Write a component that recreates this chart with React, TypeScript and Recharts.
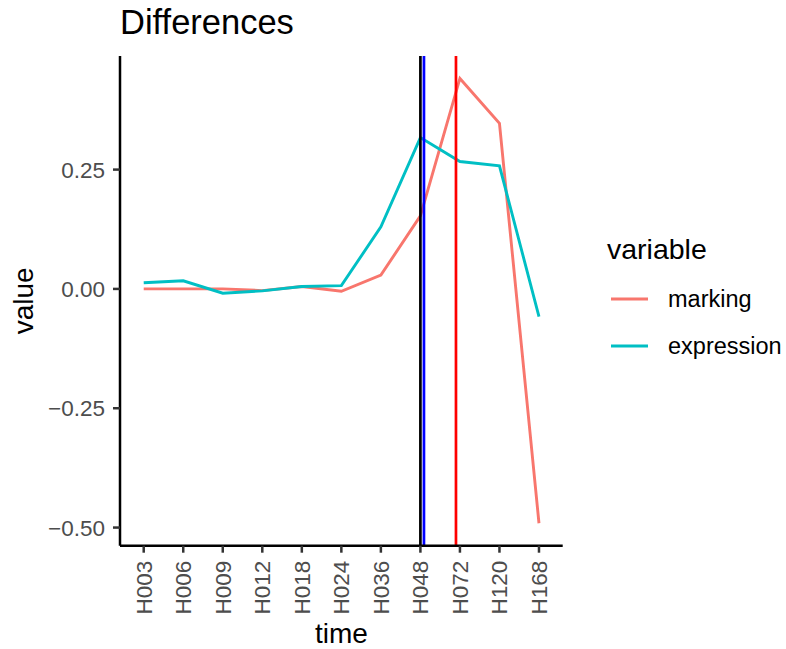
import React from "react";
import { LineChart, Line, XAxis, YAxis, ReferenceLine } from "recharts";

const categories = ["H003", "H006", "H009", "H012", "H018", "H024", "H036", "H048", "H072", "H120", "H168"];
const marking = [0.0, 0.0, 0.0, -0.0035, 0.005, -0.005, 0.029, 0.153, 0.441, 0.347, -0.491];
const expression = [0.013, 0.017, -0.009, -0.004, 0.005, 0.007, 0.13, 0.317, 0.267, 0.258, -0.058];
const seriesNames = ["marking", "expression"];
const seriesColors = ["#F8766D", "#00BFC4"];
const yTicks = [-0.5, -0.25, 0, 0.25];
const vlineX = [8, 8.09, 8.9];
const vlineColors = ["#000000", "#0000FF", "#FF0000"];

const data = categories.map((c, i) => ({ x: i + 1, label: c, marking: marking[i], expression: expression[i] }));
const xTicks = categories.map((_, i) => i + 1);

const FONT = '"Liberation Sans", Arial, Helvetica, sans-serif';
const W = 786;
const H = 649;
const LEFT = 120;
const TOP = 56;
const RIGHT = 562.7;
const BOTTOM = 545.7;

const fmtY = (v: number) => {
  const s = Math.abs(v).toFixed(2);
  return v < 0 ? "\u2212" + s : s;
};

const XTick = (props: any) => {
  const { x, y, payload } = props;
  const label = categories[Math.round(payload.value) - 1] ?? "";
  return (
    <text
      x={x}
      y={y}
      transform={`rotate(-90, ${x}, ${y})`}
      textAnchor="end"
      dy="0.355em"
      fill="#4D4D4D"
      fontSize={22.5}
      fontFamily={FONT}
    >
      {label}
    </text>
  );
};

export default function App() {
  const legendLineY = [299, 346];
  return (
    <div style={{ position: "absolute", left: 0, top: 0, width: W, height: H, background: "#fff" }}>
      <LineChart
        width={W}
        height={H}
        data={data}
        margin={{ top: TOP, right: W - RIGHT, bottom: 0, left: 0 }}
      >
        <XAxis
          dataKey="x"
          type="number"
          domain={[0.4, 11.6]}
          ticks={xTicks}
          interval={0}
          height={H - BOTTOM}
          tickSize={7}
          tickMargin={8}
          axisLine={{ stroke: "#000", strokeWidth: 2.5 }}
          tickLine={{ stroke: "#333", strokeWidth: 2.5 }}
          tick={<XTick />}
          allowDataOverflow
        />
        <YAxis
          type="number"
          domain={[-0.538, 0.488]}
          ticks={yTicks}
          interval={0}
          width={LEFT}
          tickSize={7}
          tickMargin={8}
          tickFormatter={fmtY}
          axisLine={{ stroke: "#000", strokeWidth: 2.5 }}
          tickLine={{ stroke: "#333", strokeWidth: 2.5 }}
          tick={{ fill: "#4D4D4D", fontSize: 22.5, fontFamily: FONT }}
          allowDataOverflow
        />
        {seriesNames.map((name, i) => (
          <Line
            key={name}
            type="linear"
            dataKey={name}
            stroke={seriesColors[i]}
            strokeWidth={2.9}
            dot={false}
            activeDot={false}
            isAnimationActive={false}
          />
        ))}
        {vlineX.map((v, i) => (
          <ReferenceLine key={i} x={v} stroke={vlineColors[i]} strokeWidth={2.7} ifOverflow="visible" />
        ))}
      </LineChart>
      <svg
        width={W}
        height={H}
        style={{ position: "absolute", left: 0, top: 0, pointerEvents: "none" }}
        fontFamily={FONT}
      >
        <text x={LEFT} y={34} fontSize={34.5} fill="#000">Differences</text>
        <text
          x={33}
          y={(TOP + BOTTOM) / 2}
          transform={`rotate(-90, 33, ${(TOP + BOTTOM) / 2})`}
          textAnchor="middle"
          fontSize={28}
          fill="#000"
        >
          value
        </text>
        <text x={(LEFT + RIGHT) / 2} y={643} textAnchor="middle" fontSize={28} fill="#000">time</text>
        <text x={607} y={259} fontSize={28.5} fill="#000">variable</text>
        {seriesNames.map((name, i) => (
          <g key={name}>
            <line x1={611} x2={648} y1={legendLineY[i]} y2={legendLineY[i]} stroke={seriesColors[i]} strokeWidth={2.9} />
            <text x={668} y={legendLineY[i] + 8} fontSize={23.5} fill="#000">{name}</text>
          </g>
        ))}
      </svg>
    </div>
  );
}
